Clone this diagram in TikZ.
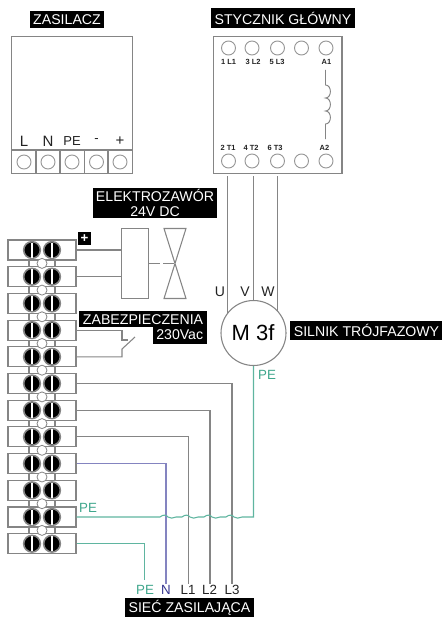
\documentclass[tikz,border=0pt]{standalone}
\usepackage{fontspec}
\setmainfont{Liberation Sans}
\usetikzlibrary{calc}
\definecolor{wire}{HTML}{858585}
\definecolor{pegreen}{HTML}{5FB5A0}
\definecolor{petext}{HTML}{3FA68C}
\definecolor{nblue}{HTML}{8484C0}
\definecolor{ntext}{HTML}{35358F}
\definecolor{txt}{HTML}{222222}
\newcommand{\pxfont}[1]{\fontsize{#1}{#1}\selectfont}
\tikzset{
  x=0.75pt,y=-0.75pt,
  ln/.style={draw=wire,line width=0.8pt},
  part/.style={draw=wire,line width=0.8pt,fill=white,inner sep=0pt},
  blabel/.style={fill=black,text=white,inner sep=0pt,align=center,font=\pxfont{10.6}},
  conn/.style={draw=wire!85,line width=0.7pt,circle,fill=white,inner sep=0pt,minimum size=10.5pt},
  small/.style={inner sep=0pt,text=txt,font=\bfseries\pxfont{5.6}},
  termlab/.style={inner sep=0pt,text=txt},
  tblock/.style={part,minimum width=51pt,minimum height=15pt},
  screw/.style={circle,draw=wire,fill=black,line width=1.2pt,minimum size=12.5pt,inner sep=0pt},
  holec/.style={circle,draw=wire,fill=white,line width=0.6pt,minimum size=7.5pt,inner sep=0pt},
  gwire/.style={draw=pegreen,line width=0.8pt},
  bwire/.style={draw=nblue,line width=0.8pt},
}
\begin{document}
\begin{tikzpicture}
\useasboundingbox (0,0) rectangle (442,617);
% power supply
\node[blabel,minimum width=55.5pt,minimum height=12.5pt] (zaslab) at (67,19.5) {ZASILACZ};
\node[part,minimum width=90.75pt,minimum height=103pt] (zas) at (72,105.25) {};
\draw[ln] (11.5,150) -- (132.5,150);
\foreach \x in {36,60,84.5,108} \draw[ln] (\x,150) -- (\x,174);
\foreach \x/\n/\t/\s in {24/za/L/11.25,48/zb/N/11.25,72/zc/PE/9.75,96.5/zd/-/9.75,120/ze/+/11.25}{
  \node[conn] (\n) at (\x,162) {};
  \node[termlab,font=\pxfont{\s}] (\n t) at (\x,141) {\t};
}
% contactor
\node[blabel,minimum width=108pt,minimum height=15pt] (stlab) at (283,18) {STYCZNIK GŁÓWNY};
\node[part,minimum width=96.4pt,minimum height=103pt] (st) at (277.75,105.25) {};
\foreach \x [count=\i] in {228.5,252,277.5,301.5,326}{
  \node[conn] (up\i) at (\x,48) {};
  \node[conn] (lo\i) at (\x,161) {};
}
\node[small] (l1) at (228.5,62) {1 L1};
\node[small] (l2) at (253,62) {3 L2};
\node[small] (l3) at (277,62) {5 L3};
\node[small] (a1) at (326.5,62) {A1};
\node[small] (t1l) at (228,147.5) {2 T1};
\node[small] (t2l) at (251,147.5) {4 T2};
\node[small] (t3l) at (275,147.5) {6 T3};
\node[small] (a2) at (324.5,147.5) {A2};
\draw[ln,line width=0.7pt] (325.5,70) -- (325.5,85)
  .. controls (332,85) and (332,98) .. (325.5,98)
  .. controls (332,98) and (332,111) .. (325.5,111)
  .. controls (332,111) and (332,124) .. (325.5,124) -- (325.5,139);
% motor
\coordinate (su) at (227.5,176);
\coordinate (sv) at (253.5,176);
\coordinate (sw) at (277.7,176);
\coordinate (sue) at (227.5,320);
\coordinate (swe) at (277.7,312);
\draw[ln] (su) -- (sue);
\draw[ln] (sv) -- (253.5,300);
\draw[ln] (sw) -- (swe);
\node[part,circle,minimum size=48.75pt] (motor) at (253.5,333) {};
\node[inner sep=0pt,text=black,font=\pxfont{16.5}] (mtxt) at (253,332.5) {M 3f};
\node[termlab,font=\pxfont{10.5}] (u) at (220,292) {U};
\node[termlab,font=\pxfont{10.5}] (v) at (245,292) {V};
\node[termlab,font=\pxfont{10.5}] (w) at (268,292) {W};
\node[blabel,minimum width=114.5pt,minimum height=14.5pt] (silab) at (366.5,330.5) {SILNIK TRÓJFAZOWY};
\node[inner sep=0pt,text=petext,font=\pxfont{10}] (pem) at (267,375) {PE};
% terminals
\foreach \i in {1,...,11}{
  \draw[ln] (29,{250+(\i-1)*26.7}) -- (29,{250+\i*26.7});
  \draw[ln] (55,{250+(\i-1)*26.7}) -- (55,{250+\i*26.7});
}
\foreach \i in {1,...,12}{
  \node[tblock] (t\i) at (42,{250+(\i-1)*26.7}) {};
}
\foreach \i in {1,...,12}{
  \node[screw] (sa\i) at (32,{250+(\i-1)*26.7}) {};
  \node[screw] (sb\i) at (52,{250+(\i-1)*26.7}) {};
  \fill[white] ($(sa\i)+(-1,-7.5)$) rectangle ($(sa\i)+(1,7.5)$);
  \fill[white] ($(sb\i)+(-1,-7.5)$) rectangle ($(sb\i)+(1,7.5)$);
}
\foreach \i in {1,...,11}{
  \node[holec] (h\i) at (42,{263.4+(\i-1)*26.7}) {};
}
% valve
\node[blabel,minimum width=93pt,minimum height=22.5pt] (evlab) at (155,203) {ELEKTROZAWÓR\\24V DC};
\node[fill=black,text=white,inner sep=0pt,minimum size=9.75pt,font=\bfseries\pxfont{10}] (plus) at (84.5,238.5) {+};
\node[part,minimum width=20pt,minimum height=52.5pt] (coil) at (135.25,263.5) {};
\draw[ln] (t1.east) -- (t1.east -| coil.west);
\draw[ln] (t2.east) -- (t2.east -| coil.west);
\coordinate (vtl) at (164,228.5);
\coordinate (vtr) at (186,228.5);
\coordinate (vbl) at (164,298.5);
\coordinate (vbr) at (186,298.5);
\coordinate (vc) at (175,263.5);
\draw[ln] (vtl) -- (vtr) -- (vbl) -- (vbr) -- cycle;
\draw[ln,dash pattern=on 8pt off 2.5pt] (coil.east) -- (vc);
% protection contact
\coordinate (kb) at (122,340);
\coordinate (kc) at (128,340);
\coordinate (kd) at (122,349);
\coordinate (kf) at (135,337);
\draw[ln] (t4.east) -| (kb) -- (kc);
\draw[ln] (t5.east) -| (kd) -- (kf);
\node[blabel,minimum width=95.5pt,minimum height=12pt,anchor=north east] (zab) at (207,311) {ZABEZPIECZENIA};
\node[blabel,minimum width=40.5pt,minimum height=13pt,anchor=north east] (zab2) at (207,326) {230Vac};
% mains wires
\coordinate (el3) at (232,584);
\coordinate (el2) at (210,584);
\coordinate (el1) at (188.3,584);
\coordinate (en) at (166,584);
\coordinate (epe) at (144.3,580);
\draw[ln] (t6.east) -| (el3);
\draw[ln] (t7.east) -| (el2);
\draw[ln] (t8.east) -| (el1);
\draw[bwire] (t9.east) -| (en);
\draw[gwire] (t12.east) -| (epe);
\coordinate (pemid) at (253.5,517);
\draw[gwire] (t11.east) -- (160,517)
  .. controls (163,514.5) and (166,514.5) .. (168,517) .. controls (170,518.5) and (173,518.5) .. (176,517) -- (182,517)
  .. controls (185,514.5) and (188,514.5) .. (190,517) .. controls (192,518.5) and (195,518.5) .. (198,517) -- (204,517)
  .. controls (207,514.5) and (210,514.5) .. (212,517) .. controls (214,518.5) and (217,518.5) .. (220,517) -- (226,517)
  .. controls (229,514.5) and (232,514.5) .. (234,517) .. controls (236,518.5) and (239,518.5) .. (242,517) -- (pemid) -- (motor.south);
\node[inner sep=0pt,text=petext,font=\pxfont{10}] (pet) at (88,508) {PE};
\node[inner sep=0pt,text=petext,font=\pxfont{10}] (pe) at (145,590) {PE};
\node[inner sep=0pt,text=ntext,font=\pxfont{10}] (n) at (166,590) {N};
\node[inner sep=0pt,text=txt,font=\pxfont{10}] (lb1) at (188,590) {L1};
\node[inner sep=0pt,text=txt,font=\pxfont{10}] (lb2) at (209.5,590) {L2};
\node[inner sep=0pt,text=txt,font=\pxfont{10}] (lb3) at (232,590) {L3};
\node[blabel,minimum width=96.75pt,minimum height=14.5pt] (sieclab) at (189.5,607.5) {SIEĆ ZASILAJĄCA};
\end{tikzpicture}
\end{document}
